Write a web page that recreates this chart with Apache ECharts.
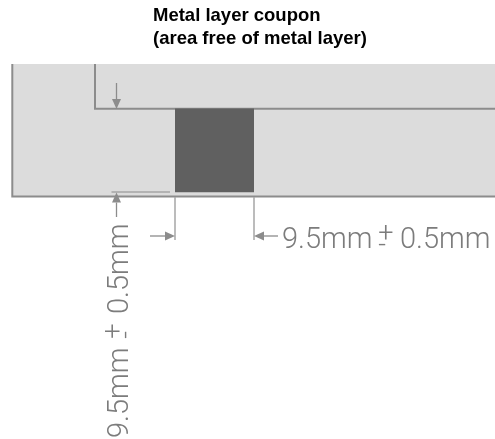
<!DOCTYPE html>
<html><head><meta charset="utf-8">
<style>html,body{margin:0;padding:0;background:#fff}#c{width:495px;height:439px}</style>
<script src="https://cdn.jsdelivr.net/npm/echarts@6/dist/echarts.min.js"></script>
</head><body><div id="c"></div>
<script>
const titleLines = ['Metal layer coupon', '(area free of metal layer)'];
const panel = [12, 64, 495, 196.5];
const coupon = [175, 108.5, 254, 192.3];
const thickLines = [
  [[12.3,64],[12.3,196.5],[495,196.5]],
  [[95,64],[95,108.7],[495,108.7]]
];
const thinLines = [
  [[111.5,192],[170,192]],
  [[175,197],[175,240]],
  [[254,197],[254,240]]
];
const arrows = [
  [[116.5,83],[116.5,109]],
  [[116.5,217],[116.5,192.5]],
  [[150,236],[175,236]],
  [[278,236],[254,236]]
];
const dimTexts = [
  {t:'9.5mm', x:282, y:241, r:0, s:29, a:'left'},
  {t:'+', x:386, y:235, r:0, s:27, a:'center'},
  {t:'-', x:382, y:246, r:0, s:27, a:'center'},
  {t:'0.5mm', x:400, y:241, r:0, s:29, a:'left'},
  {t:'9.5mm', x:120.5, y:438, r:90, s:29, a:'left'},
  {t:'+', x:115, y:331, r:90, s:27, a:'center'},
  {t:'-', x:127, y:335, r:90, s:27, a:'center'},
  {t:'0.5mm', x:120.5, y:314, r:90, s:29, a:'left'}
];
const lineColor = '#8c8c8c', thinColor = '#a6a6a6', textColor = '#7c7c7c';
const font = '"Liberation Sans", sans-serif';
const dimFont = 'Roboto, "Liberation Sans", sans-serif';

function rect(api, b, fill){
  const p = api.coord([b[0], b[1]]), q = api.coord([b[2], b[3]]);
  return {type:'rect', shape:{x:p[0], y:p[1], width:q[0]-p[0], height:q[1]-p[1]}, style:{fill}};
}
function poly(api, line, color, w){
  return {type:'polyline', shape:{points:line.map(p=>api.coord(p))}, style:{stroke:color, lineWidth:w, fill:null, lineJoin:'miter'}};
}
function arrow(api, a){
  const p = api.coord(a[0]), q = api.coord(a[1]);
  const dx = q[0]-p[0], dy = q[1]-p[1], L = Math.hypot(dx,dy), ux = dx/L, uy = dy/L, h = 10, w = 4.5;
  const bx = q[0]-ux*h, by = q[1]-uy*h;
  return {type:'group', children:[
    {type:'line', shape:{x1:p[0],y1:p[1],x2:bx,y2:by}, style:{stroke:lineColor, lineWidth:1.3}},
    {type:'polygon', shape:{points:[q,[bx-uy*w,by+ux*w],[bx+uy*w,by-ux*w]]}, style:{fill:lineColor}}
  ]};
}
function renderItem(params, api){
  const ch = [];
  ch.push(rect(api, panel, '#dcdcdc'));
  thickLines.forEach(l => ch.push(poly(api, l, lineColor, 2)));
  ch.push(rect(api, coupon, '#606060'));
  thinLines.forEach(l => ch.push(poly(api, l, thinColor, 1.5)));
  arrows.forEach(a => ch.push(arrow(api, a)));
  dimTexts.forEach(d => {
    const p = api.coord([d.x, d.y]);
    ch.push({type:'text', x:p[0], y:p[1], rotation:d.r*Math.PI/180,
      style:{text:d.t, fill:textColor, font:'300 '+d.s+'px '+dimFont, textAlign:d.a, textVerticalAlign:'middle'}});
  });
  return {type:'group', children:ch};
}
const chart = echarts.init(document.getElementById('c'), null, {renderer:'canvas'});
chart.setOption({
  animation:false,
  backgroundColor:'#fff',
  title:{text:titleLines.join('\n'), left:148, top:0,
    textStyle:{fontFamily:font, fontSize:18.5, fontWeight:'bold', color:'#000', lineHeight:22.5}},
  grid:{left:0,right:0,top:0,bottom:0},
  xAxis:{type:'value', min:0, max:495, show:false},
  yAxis:{type:'value', min:0, max:439, inverse:true, show:false},
  series:[{type:'custom', clip:true, silent:true, data:[[0,0]], renderItem}]
});
</script></body></html>
